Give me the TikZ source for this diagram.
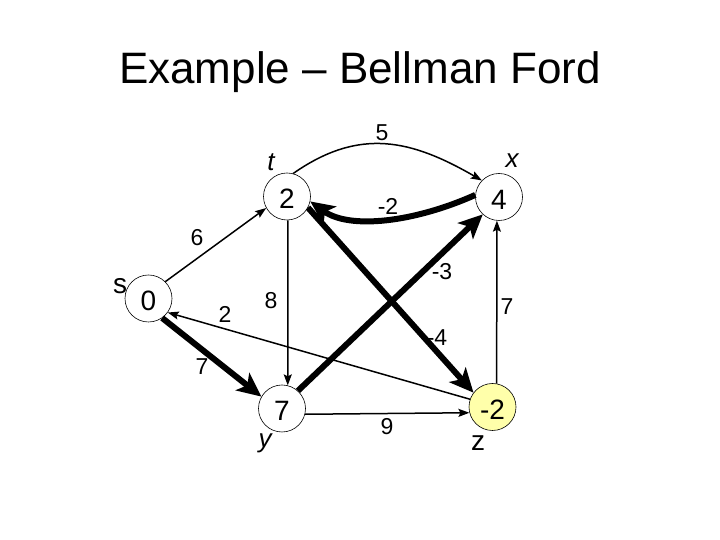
\documentclass[tikz,border=0pt]{standalone}
\usepackage{fontspec}
\setmainfont{Liberation Sans}
\usetikzlibrary{arrows.meta}
\definecolor{zyellow}{RGB}{255,255,170}
\begin{document}
\begin{tikzpicture}[x=1pt,y=1pt,
  vert/.style={circle,draw=black,line width=0.6pt,minimum size=47pt,inner sep=0pt,text height=25pt,text depth=0pt,font=\fontsize{28}{31}\selectfont},
  lbl/.style={inner sep=0pt,font=\fontsize{23}{27}\selectfont},
  vname/.style={inner sep=0pt,font=\fontsize{26}{29}\selectfont\itshape},
  pname/.style={inner sep=0pt,font=\fontsize{28}{31}\selectfont},
  thinedge/.style={line width=1.5pt,-{Stealth[length=11pt,width=8pt,inset=2pt]}},
  thickedge/.style={line width=6pt,-{Stealth[length=24pt,width=22pt,inset=6pt]}}]
\useasboundingbox (0,0) rectangle (720,540);
\node[anchor=base,font=\fontsize{44}{50}\selectfont] (title) at (360,456) {Example – Bellman Ford};
\node[vert] (t) at (287,343.5) {2};
\node[vert] (x) at (499,343) {4};
\node[vert] (s) at (148.5,241.5) {0};
\node[vert] (y) at (282,131.5) {7};
\node[vert,fill=zyellow] (z) at (492.5,133) {-2};
\node[vname] (tl) at (271,378) {t};
\node[vname] (xl) at (512,379) {x};
\node[pname] (sl) at (120,254) {s};
\node[vname] (yl) at (265,97) {y};
\node[pname] (zl) at (478,97) {z};
\node[lbl] (w5) at (382,407) {5};
\node[lbl] (wm2) at (388,334) {-2};
\node[lbl] (w6) at (197,302) {6};
\node[lbl] (w2) at (225,226) {2};
\node[lbl] (w8) at (271,239) {8};
\node[lbl] (w7a) at (202,173) {7};
\node[lbl] (wm3) at (442,268) {-3};
\node[lbl] (w7b) at (507,233) {7};
\node[lbl] (wm4) at (437,202) {-4};
\node[lbl] (w9) at (387,113) {9};
% thin edges
\draw[thinedge] (t.75) to[out=35,in=150,looseness=1.1] (x.136);
\draw[thinedge] (s.45) -- (t.209);
\draw[thinedge] (t.-88) -- (y.76);
\draw[thinedge] (z.80) -- (x.-95);
\draw[thinedge] (z.161) -- (s.-36);
\draw[thinedge] (y.-14) -- (z.194);
% thick edges
\draw[thickedge] (x.175) .. controls (415,318) and (350,310) .. (t.-12);
\draw[thickedge] (s.-55) -- (y.150);
\draw[thickedge] (t.-28) -- (z.143);
\draw[thickedge] (y.48) -- (x.227);
\end{tikzpicture}
\end{document}
